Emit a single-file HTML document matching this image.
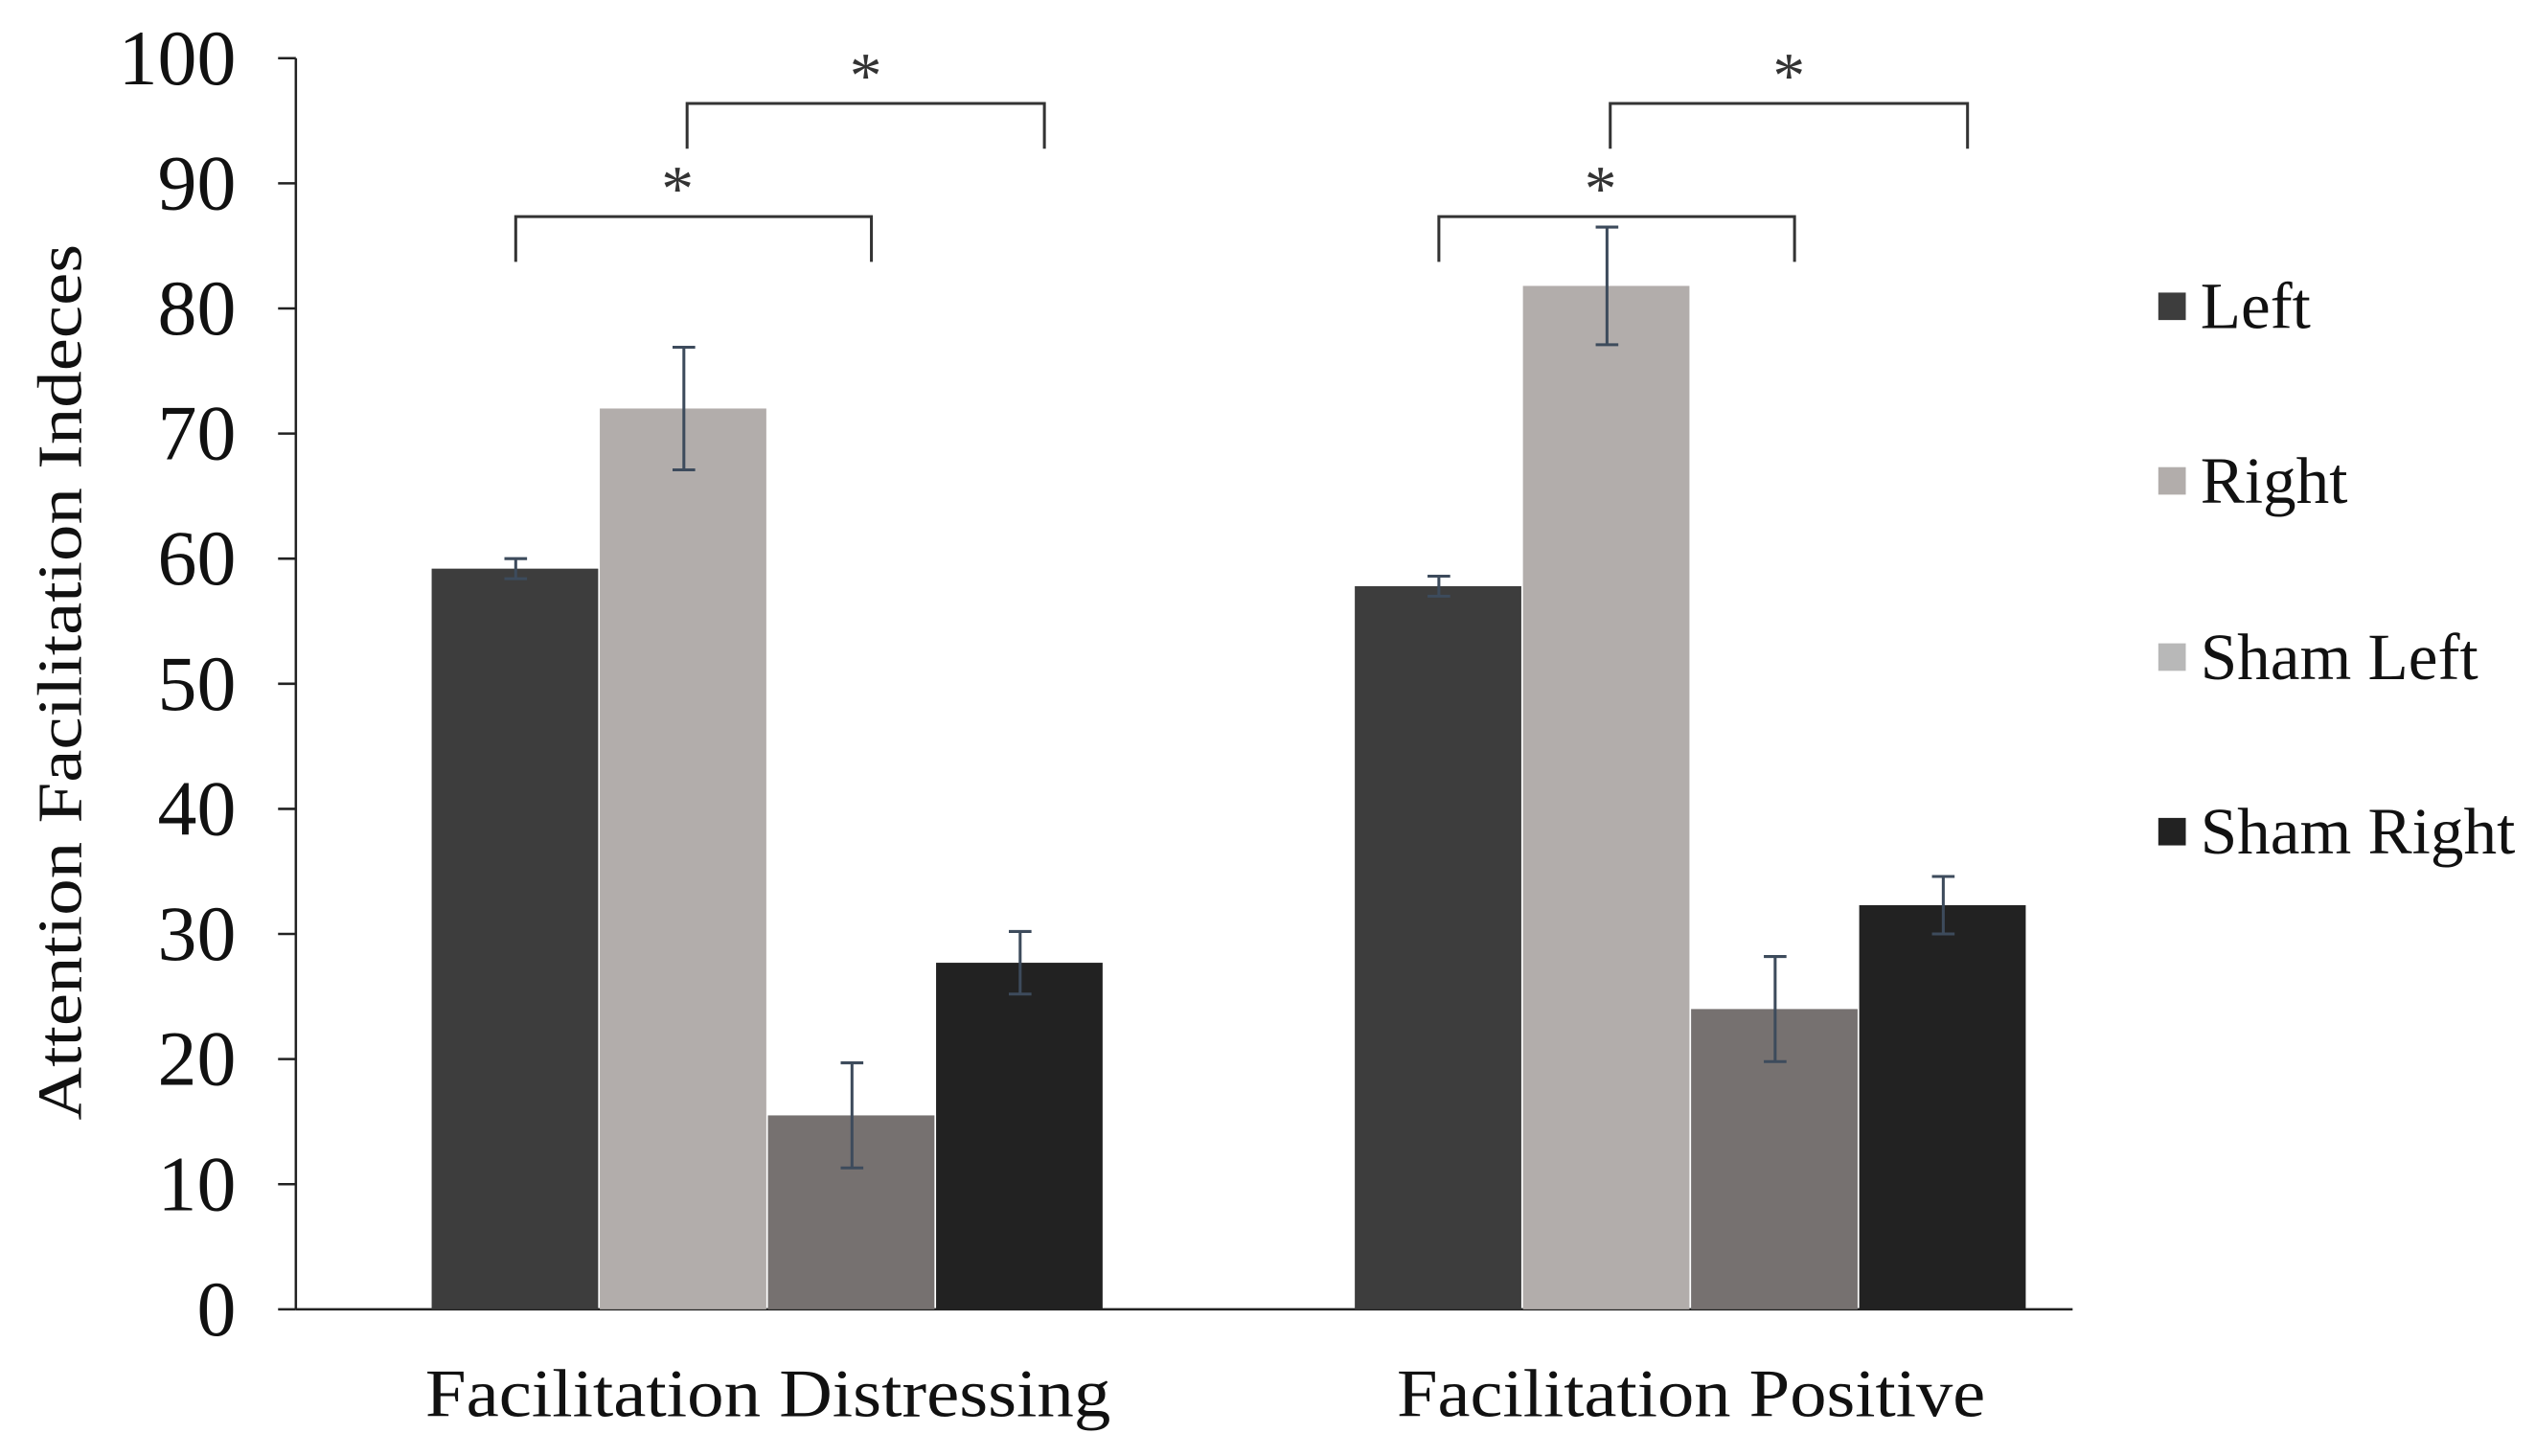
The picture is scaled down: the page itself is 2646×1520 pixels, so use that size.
<!DOCTYPE html>
<html><head><meta charset="utf-8"><style>html,body{margin:0;padding:0;background:#fff}svg{display:block}</style></head>
<body>
<svg id="chart" width="2646" height="1520" viewBox="0 0 1568 900.74" xmlns="http://www.w3.org/2000/svg" font-family="'Liberation Serif', serif">
<rect width="1568" height="900.74" fill="#fff"/>
<g id="g"></g>
</svg>
<script>
const categories = ["Facilitation Distressing", "Facilitation Positive"];
const seriesNames = ["Left", "Right", "Sham Left", "Sham Right"];
const leftVals = [59.2, 57.8];
const rightVals = [72.0, 81.8];
const shamLeftVals = [15.5, 24.0];
const shamRightVals = [27.7, 32.3];
const leftErr = [0.8, 0.8];
const rightErr = [4.9, 4.7];
const shamLeftErr = [4.2, 4.2];
const shamRightErr = [2.5, 2.3];
const yTicks = [0,10,20,30,40,50,60,70,80,90,100];
const barColors = ["#3d3d3d", "#b2adab", "#767170", "#222222"];
const legendColors = ["#3d3d3d", "#b2adab", "#b8b8b8", "#222222"];

const NS = "http://www.w3.org/2000/svg";
const g = document.getElementById("g");
const X0 = 183, X1 = 1282, Y0 = 810, Y1 = 36;
const y = v => Y0 - (v / 100) * (Y0 - Y1);
const groupStart = [267, 838], barW = 104;
const x = (ci, si) => groupStart[ci] + si * barW;
function el(t, a, txt) { const e = document.createElementNS(NS, t); for (const k in a) e.setAttribute(k, a[k]); if (txt !== undefined) e.textContent = txt; g.appendChild(e); return e; }

let e = el("line", {x1: X0, y1: Y1, x2: X0, y2: Y0, stroke: "#222", "stroke-width": 1.5});


e = el("line", {x1: X0, y1: Y0, x2: X1, y2: Y0, stroke: "#222", "stroke-width": 1.5});


yTicks.forEach(t => {
  const tk = el("line", {x1: X0 - 11, y1: y(t), x2: X0, y2: y(t), stroke: "#222", "stroke-width": 1.5});
  
  
  const lb = el("text", {x: 146, y: y(t) + 16, "text-anchor": "end", "font-size": 48.5, fill: "#111"}, String(t));
  
  
});
e = el("text", {x: 0, y: 0, transform: "translate(50,422) rotate(-90)", "text-anchor": "middle", "font-size": 39, fill: "#111", textLength: 542, lengthAdjust: "spacingAndGlyphs"}, "Attention Facilitation Indeces");



const vals = [leftVals, rightVals, shamLeftVals, shamRightVals];
const errs = [leftErr, rightErr, shamLeftErr, shamRightErr];
const catLen = [424, 364];
categories.forEach((c, ci) => {
  vals.forEach((arr, si) => {
    const v = arr[ci], bx = x(ci, si);
    const b = el("rect", {x: bx, y: y(v), width: barW - 1, height: Y0 - y(v), fill: barColors[si]});
    
    
    const cx = bx + barW / 2, er = errs[si][ci];
    const p = el("path", {d: `M${cx-7},${y(v+er)}H${cx+7}M${cx},${y(v+er)}V${y(v-er)}M${cx-7},${y(v-er)}H${cx+7}`, stroke: "#3d4b5c", "stroke-width": 1.8, fill: "none"});
    
    
  });
  const cl = el("text", {x: groupStart[ci] + 2 * barW, y: 876, "text-anchor": "middle", "font-size": 42, fill: "#111", textLength: catLen[ci], lengthAdjust: "spacingAndGlyphs"}, c);
  
  
  const br = [[0, 2, 134, 162, 0, 12], [1, 3, 64, 92, 2, 15]];
  br.forEach(([a, b2, top, bot, oa, ob]) => {
    const xa = x(ci, a) + barW / 2 + oa, xb = x(ci, b2) + barW / 2 + ob;
    const bp = el("path", {d: `M${xa},${bot}V${top}H${xb}V${bot}`, stroke: "#333", "stroke-width": 1.8, fill: "none"});
    
    
    const st = el("text", {x: (xa + xb) / 2 - (a === 0 ? 10 : 0), y: top - 4, "text-anchor": "middle", "font-size": 40, fill: "#333"}, "*");
    
    
  });
});

const legY = [190, 298, 407, 515];
seriesNames.forEach((n, i) => {
  const sw = el("rect", {x: 1335, y: legY[i] - 9, width: 17, height: 17, fill: legendColors[i]});
  
  
  const t = el("text", {x: 1361, y: legY[i] + 13, "font-size": 41, fill: "#111"}, n);
  
  
});
</script>
</body></html>
